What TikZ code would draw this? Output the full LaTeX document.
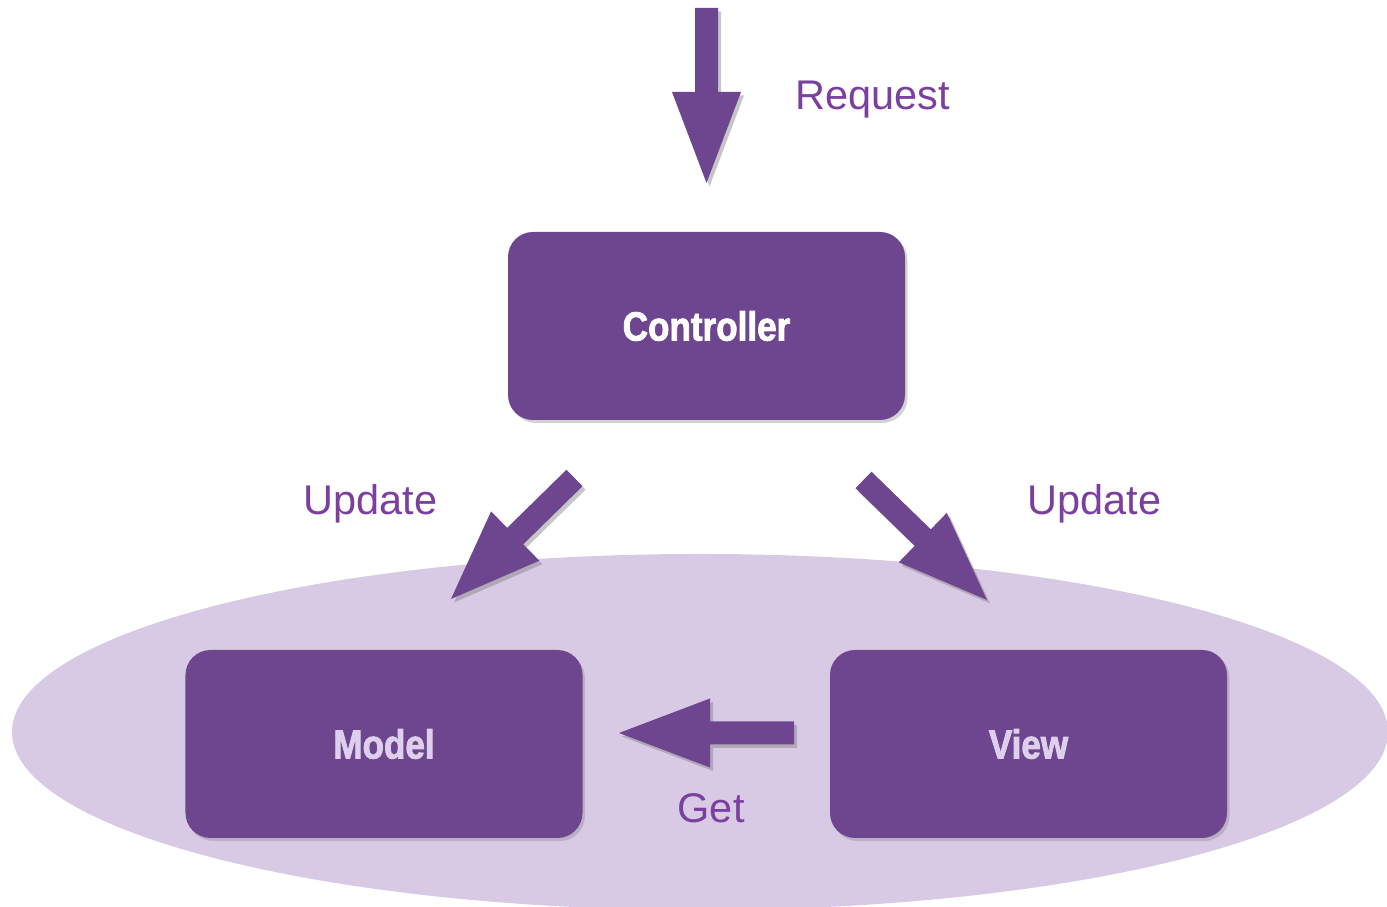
\documentclass[tikz,border=0pt]{standalone}
\usepackage{fontspec}
\setmainfont{Liberation Sans}
\newfontfamily\boxfont[FakeStretch=0.86,FakeBold=2]{Liberation Sans Bold}
\usetikzlibrary{calc,shadows}

\definecolor{mvcpurple}{RGB}{110,70,144}
\definecolor{mvclavender}{RGB}{216,202,228}
\definecolor{mvclabel}{RGB}{123,63,160}
\definecolor{mvcpale}{RGB}{222,208,236}

% block arrow from tail (#1) to tip (#2)
\newcommand{\flowarrow}[2]{%
  \path (#1) -- (#2) coordinate[pos=0.48] (#1-head);
  \fill[flow] ($(#1)!0.115cm!90:(#2)$) -- ($(#1-head)!0.115cm!90:(#2)$)
    -- ($(#1-head)!0.345cm!90:(#2)$) -- (#2)
    -- ($(#1-head)!0.345cm!-90:(#2)$) -- ($(#1-head)!0.115cm!-90:(#2)$)
    -- ($(#1)!0.115cm!-90:(#2)$) -- cycle;}

\begin{document}
\begin{tikzpicture}[
    box/.style={rounded corners=0.25cm,fill=mvcpurple,minimum width=3.97cm,minimum height=1.88cm,
      drop shadow={shadow xshift=0.025cm,shadow yshift=-0.03cm,opacity=0.35},
      font=\boxfont\fontsize{11.6}{14}\selectfont},
    flow/.style={fill=mvcpurple,drop shadow={shadow xshift=0.03cm,shadow yshift=-0.035cm,opacity=0.45}},
    tag/.style={inner sep=0pt,anchor=base west,text=mvclabel,font=\fontsize{11.8}{14}\selectfont}]
                \useasboundingbox (0,0) rectangle (13.87,9.07);
                \fill[mvclavender](7.00, 1.75) ellipse [x radius=6.88, y radius=1.78];
                \node[box,text=white](controller)at(7.065, 5.81){Controller};
                \node[box,text=mvcpale](model)at(3.84, 1.63){Model};
                \node[box,text=mvcpale](view)at(10.285, 1.63){View};
                \coordinate(req)at(7.065, 8.99);
                \coordinate(reqtip)at(7.065, 7.24);
                \coordinate(upm)at(5.745, 4.29);
                \coordinate(upmtip)at(4.51, 3.08);
                \coordinate(upv)at(8.635, 4.27);
                \coordinate(upvtip)at(9.87, 3.07);
                \coordinate(get)at(7.94, 1.74);
                \coordinate(gettip)at(6.19, 1.74);
                \flowarrow{req}{reqtip}
                \flowarrow{upm}{upmtip}
                \flowarrow{upv}{upvtip}
                \flowarrow{get}{gettip}
                \node[tag](request)at(7.95, 7.97){Request};
                \node[tag](updatem)at(3.03, 3.92){Update};
                \node[tag](updatev)at(10.27, 3.92){Update};
                \node[tag](getlabel)at(6.77, 0.84){Get};
            \end{tikzpicture}
\end{document}
